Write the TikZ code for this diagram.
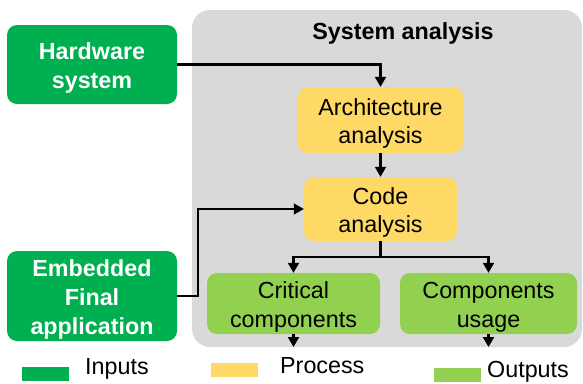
\documentclass[tikz,border=0pt]{standalone}
\usepackage{fontspec}
\setmainfont{Liberation Sans}
\usetikzlibrary{arrows.meta}
\definecolor{ingreen}{HTML}{00B050}
\definecolor{procyellow}{HTML}{FFD966}
\definecolor{outgreen}{HTML}{92D050}
\definecolor{panelgray}{HTML}{D9D9D9}
\begin{document}
\begin{tikzpicture}[x=1pt,y=-1pt,
  box/.style={rounded corners=10pt, inner sep=0pt},
  inbox/.style={box, fill=ingreen},
  procbox/.style={box, fill=procyellow},
  outbox/.style={box, fill=outgreen},
  boxtext/.style={align=center, inner sep=0pt, font=\fontsize{23.3}{28.8}\selectfont},
  intext/.style={boxtext, text=white, font=\fontsize{23.3}{28.8}\selectfont\bfseries},
  conn/.style={draw=black, line width=2.1pt, -{Triangle[length=10pt,width=11pt]}},
  thinconn/.style={draw=black, line width=1.3pt, -{Triangle[length=10pt,width=11pt]}},
  swatch/.style={inner sep=0pt, minimum width=47pt, minimum height=14pt},
  legtext/.style={inner sep=0pt, anchor=base west, font=\fontsize{23.3}{28.8}\selectfont}
]
\useasboundingbox (0,0) rectangle (583,383);

% system analysis panel
\fill[panelgray, rounded corners=18pt] (192,10) rectangle (582,347);
\node[inner sep=0pt, font=\fontsize{23.3}{28}\selectfont\bfseries] (title) at (403,33) {System analysis};

% inputs
\node[inbox, minimum width=170pt, minimum height=79pt] (hw) at (92,64.5) {};
\node[intext] (hwtext) at (92,68) {Hardware\\system};
\node[inbox, minimum width=170pt, minimum height=90pt] (emb) at (92,296) {};
\node[intext] (embtext) at (92,299.5) {Embedded\\Final\\application};

% process steps
\node[procbox, minimum width=165pt, minimum height=66pt] (arch) at (380.5,120) {};
\node[boxtext] (archtext) at (380.5,123.5) {Architecture\\analysis};
\node[procbox, minimum width=153pt, minimum height=64pt] (code) at (380.5,209) {};
\node[boxtext] (codetext) at (380.5,212.5) {Code\\analysis};

% outputs
\node[outbox, minimum width=173pt, minimum height=61pt] (crit) at (293.5,303.5) {};
\node[boxtext] (crittext) at (293.5,307) {Critical\\components};
\node[outbox, minimum width=177pt, minimum height=61pt] (usage) at (488.5,303.5) {};
\node[boxtext] (usagetext) at (488.5,307) {Components\\usage};

% connectors
\draw[conn] (hw.east) -| (arch.north);
\draw[conn] (arch.south) -- (code.north);
\coordinate (embturn) at (198,296);
\draw[thinconn] (emb.east) -- (embturn) |- (code.west);
\coordinate (split) at (380.5,257);
\draw[conn] (code.south) -- (split) -| (crit.north);
\draw[conn] (split) -| (usage.north);
\coordinate (critout) at (293.5,347);
\coordinate (usageout) at (488.5,347);
\draw[conn] (crit.south) -- (critout);
\draw[conn] (usage.south) -- (usageout);

% legend
\node[swatch, fill=ingreen] (keyin) at (45,373.5) {};
\node[legtext] (keyintext) at (85,374.5) {Inputs};
\node[swatch, fill=procyellow] (keyproc) at (234.5,370) {};
\node[legtext] (keyproctext) at (280,373.5) {Process};
\node[swatch, fill=outgreen] (keyout) at (457,374.5) {};
\node[legtext] (keyouttext) at (487,377.5) {Outputs};
\end{tikzpicture}
\end{document}
